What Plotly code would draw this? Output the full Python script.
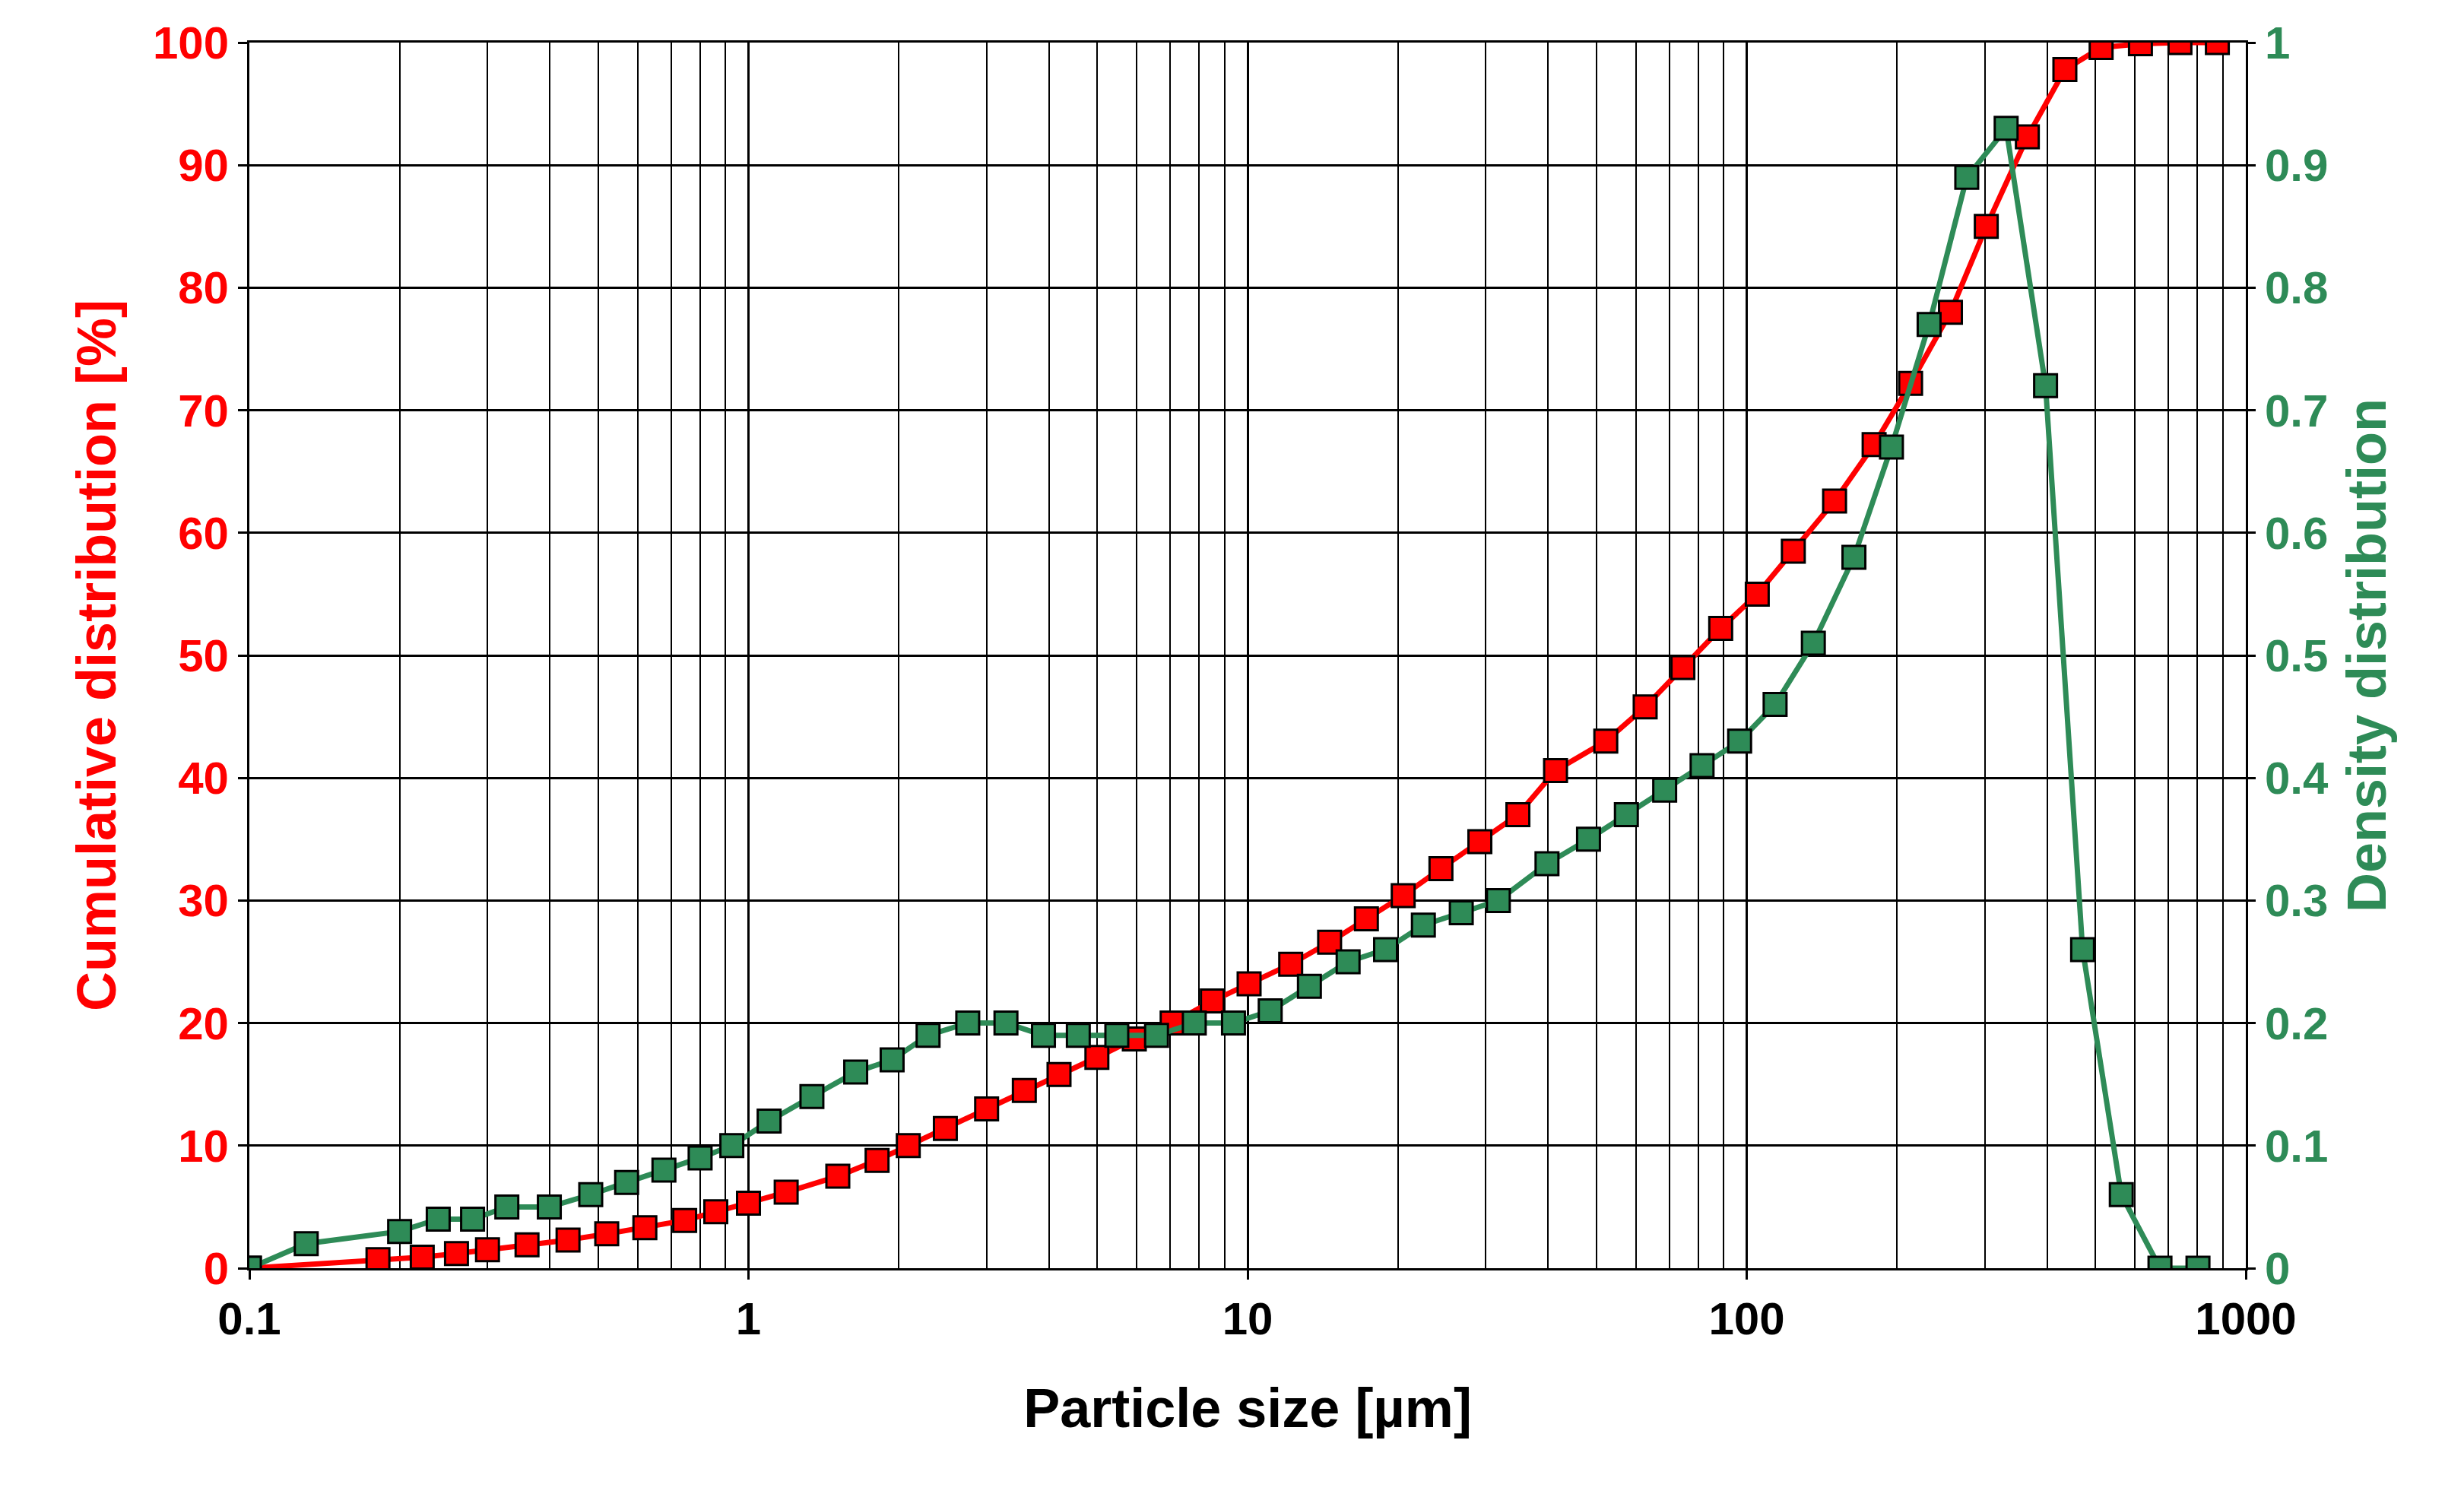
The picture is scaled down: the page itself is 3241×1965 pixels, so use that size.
import plotly.graph_objects as go

cum_x = [0.1,0.181,0.222,0.26,0.30,0.36,0.435,0.52,0.62,0.745,0.86,1.0,1.19,1.51,1.81,2.09,2.48,3.0,3.57,4.19,4.99,5.93,7.06,8.5,10.07,12.2,14.6,17.3,20.5,24.4,29.2,34.8,41.4,52.2,62.6,74.5,88.7,105,124,150,180,213,256,302,365,434,513,615,738,877]
cum_y = [0,0.7,0.9,1.2,1.5,1.9,2.3,2.8,3.3,3.9,4.6,5.3,6.2,7.5,8.8,10,11.4,13,14.5,15.8,17.2,18.7,20,21.8,23.2,24.8,26.6,28.5,30.4,32.6,34.8,37,40.6,43,45.8,49,52.2,55,58.5,62.6,67.2,72.2,78,85,92.3,97.8,99.6,99.9,100,100]
den_x = [0.1,0.13,0.2,0.239,0.28,0.328,0.399,0.483,0.57,0.677,0.80,0.926,1.10,1.34,1.64,1.94,2.29,2.75,3.28,3.90,4.58,5.47,6.57,7.82,9.37,11.1,13.3,15.9,18.9,22.5,26.8,31.8,39.8,48.2,57.4,68.5,81.4,96.8,114,136,164,195,232,276,331,397,471,563,673,802]
den_y = [0,0.02,0.03,0.04,0.04,0.05,0.05,0.06,0.07,0.08,0.09,0.10,0.12,0.14,0.16,0.17,0.19,0.20,0.20,0.19,0.19,0.19,0.19,0.20,0.20,0.21,0.23,0.25,0.26,0.28,0.29,0.30,0.33,0.35,0.37,0.39,0.41,0.43,0.46,0.51,0.58,0.67,0.77,0.89,0.93,0.72,0.26,0.06,0,0]

RED = "#ff0000"
GREEN = "#2e8b57"
FONT = "Liberation Sans"

fig = go.Figure()
fig.add_trace(go.Scatter(x=den_x, y=den_y, yaxis="y2", mode="lines+markers",
    line=dict(color=GREEN, width=7), marker=dict(symbol="square", size=30, color=GREEN, line=dict(color="black", width=3))))
fig.add_trace(go.Scatter(x=cum_x, y=cum_y, mode="lines+markers",
    line=dict(color=RED, width=7), marker=dict(symbol="square", size=30, color=RED, line=dict(color="black", width=3))))

fig.update_layout(
    width=3241, height=1965, showlegend=False,
    paper_bgcolor="white", plot_bgcolor="white",
    margin=dict(l=320, r=295, t=48, b=305),
    font=dict(family=FONT, size=60),
    xaxis=dict(type="log", range=[-1, 3], dtick=1, showgrid=True, gridcolor="black", gridwidth=2.5,
        minor=dict(dtick="D1", showgrid=True, gridcolor="black", gridwidth=2),
        showline=True, linecolor="black", linewidth=3, mirror=True,
        ticks="outside", ticklen=12, tickcolor="black", tickwidth=3,
        tickfont=dict(family=FONT, size=60, color="black", weight="bold"),
        title=dict(text="<b>Particle size [µm]</b>", font=dict(family=FONT, size=72, color="black"), standoff=60)),
    yaxis=dict(range=[0, 100], dtick=10, showgrid=True, gridcolor="black", gridwidth=2.5,
        showline=True, linecolor="black", linewidth=3, mirror=True, zeroline=False,
        ticks="outside", ticklen=12, tickcolor="black", tickwidth=3,
        tickfont=dict(family=FONT, size=60, color=RED, weight="bold"),
        title=dict(text="<b>Cumulative distribution [%]</b>", font=dict(family=FONT, size=72, color=RED), standoff=25)),
    yaxis2=dict(range=[0, 1], dtick=0.1, overlaying="y", side="right", showgrid=False, zeroline=False,
        ticks="outside", ticklen=12, tickcolor="black", tickwidth=3,
        tickfont=dict(family=FONT, size=60, color=GREEN, weight="bold"),
        title=dict(text="<b>Density distribution</b>", font=dict(family=FONT, size=72, color=GREEN), standoff=25)),
)
fig.write_html("out.html")
